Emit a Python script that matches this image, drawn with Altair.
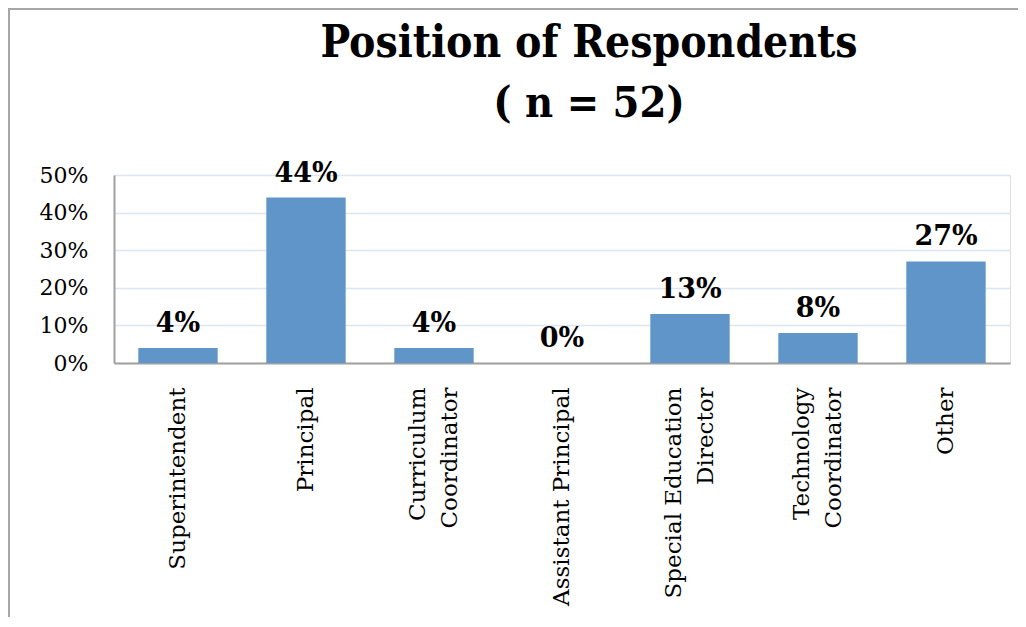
import altair as alt
import pandas as pd

title_lines = ["Position of Respondents", "( n = 52)"]
categories = [
    "Superintendent",
    "Principal",
    "Curriculum\nCoordinator",
    "Assistant Principal",
    "Special Education\nDirector",
    "Technology\nCoordinator",
    "Other",
]
values = [0.04, 0.44, 0.04, 0.0, 0.13, 0.08, 0.27]
y_ticks = [0, 0.1, 0.2, 0.3, 0.4, 0.5]

df = pd.DataFrame({"position": categories, "share": values})

SERIF = "DejaVu Serif"
BAR = "#5f95c9"

x_enc = alt.X(
    "position:N",
    sort=categories,
    scale=alt.Scale(paddingInner=0.38, paddingOuter=0.19),
    axis=alt.Axis(
        title=None,
        labelAngle=-90,
        labelFont=SERIF,
        labelFontSize=23,
        labelColor="#000000",
        labelPadding=24,
        labelLineHeight=32,
        labelExpr="split(datum.label, '\\n')",
        labelOffset={
            "condition": {"test": "indexof(datum.label, '\\n') >= 0", "value": -16},
            "value": 0,
        },
        labelOverlap=False,
        ticks=False,
        domainColor="#a0a0a0",
        domainWidth=2,
        labelLimit=400,
    ),
)
y_enc = alt.Y(
    "share:Q",
    scale=alt.Scale(domain=[0, 0.5], nice=False),
    axis=alt.Axis(
        title=None,
        values=y_ticks,
        format=".0%",
        labelFont=SERIF,
        labelFontSize=22,
        labelColor="#000000",
        labelPadding=26,
        labelOverlap=False,
        ticks=False,
        domainColor="#a0a0a0",
        domainWidth=2,
        grid=True,
        gridColor="#dce6f2",
        gridWidth=1.5,
    ),
)

base = alt.Chart(df)

bars = base.mark_bar(color=BAR).encode(x=x_enc, y=y_enc)

labels = base.mark_text(
    font=SERIF,
    fontSize=27,
    fontWeight="bold",
    color="#000000",
    baseline="alphabetic",
    dy=-16,
).encode(
    x=x_enc,
    y=y_enc,
    text=alt.Text("share:Q", format=".0%"),
)

one = pd.DataFrame({"a": [0]})

frame = alt.Chart(one).mark_rect(
    fill=None, stroke="#a6a6a6", strokeWidth=2
).encode(
    x=alt.value(-105),
    y=alt.value(-166),
    x2=alt.value(1100),
    y2=alt.value(700),
)

title1 = alt.Chart(one).mark_text(
    text=title_lines[0],
    font="DejaVu Serif Condensed",
    fontSize=44,
    fontWeight="bold",
    color="#000000",
    align="center",
    baseline="alphabetic",
).encode(x=alt.value(475), y=alt.value(-118))

title2 = alt.Chart(one).mark_text(
    text=title_lines[1],
    font="DejaVu Serif Condensed",
    fontSize=43,
    fontWeight="bold",
    color="#000000",
    align="center",
    baseline="alphabetic",
).encode(x=alt.value(475), y=alt.value(-58))

chart = (
    alt.layer(frame, bars, labels, title1, title2)
    .properties(
        width=896,
        height=188,
        autosize=alt.AutoSizeParams(type="none"),
        padding={"left": 106, "top": 167, "right": 8, "bottom": 254},
    )
    .configure_view(stroke=None)
    .configure(background="#ffffff")
)

chart.save("out.html", embed_options={"renderer": "svg", "actions": False})
